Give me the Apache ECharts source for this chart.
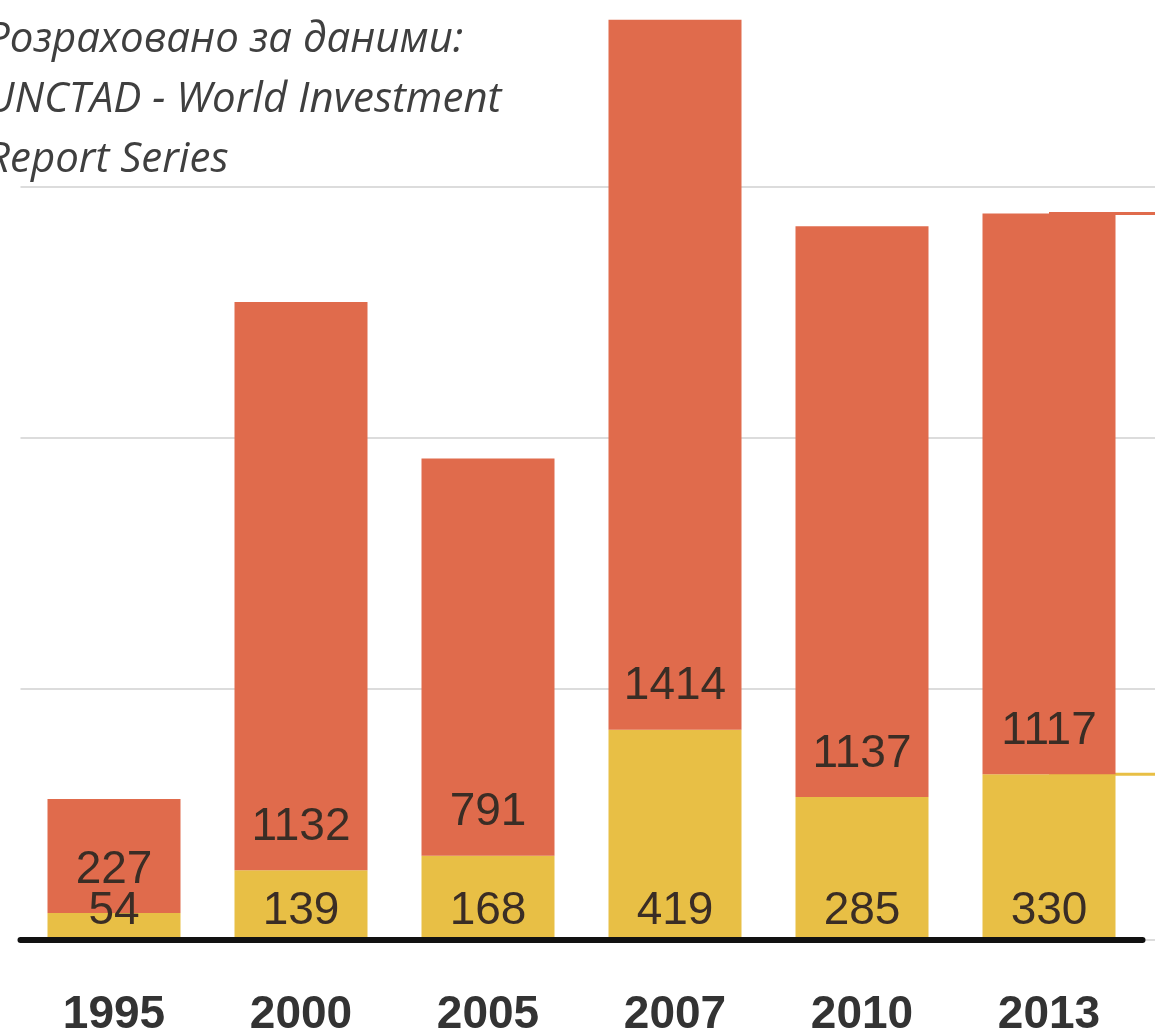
<!DOCTYPE html>
<html>
<head>
<meta charset="utf-8">
<script src="https://cdn.jsdelivr.net/npm/echarts@6/dist/echarts.min.js"></script>
<style>
  html, body { margin: 0; padding: 0; background: #ffffff; }
  #chart { width: 1155px; height: 1036px; }
</style>
</head>
<body>
<div id="chart"></div>
<script>
// ---- data ----
const categories = ['1995', '2000', '2005', '2007', '2010', '2013'];
const yellowValues = [54, 139, 168, 419, 285, 330];
const orangeValues = [227, 1132, 791, 1414, 1137, 1117];
// connector lines leaving the 2013 bar towards an element outside the frame
const connectorCategories = ['1995', '2000', '2005', '2007', '2010', '2013', 'next'];
const connectorTotal = [null, null, null, null, null, 1447, 1447];
const connectorYellow = [null, null, null, null, null, 330, 330];
const sourceLines = ['Розраховано за даними:', 'UNCTAD - World Investment', 'Report Series'];

const ORANGE = '#e06b4c';
const YELLOW = '#e8bf45';
const LABEL = '#3a2d25';

const chart = echarts.init(document.getElementById('chart'), null, { renderer: 'canvas' });

const yCommon = {
  type: 'value', min: 0, max: 2000, interval: 500,
  axisLabel: { show: false }, axisLine: { show: false }, axisTick: { show: false }
};

const option = {
  backgroundColor: '#ffffff',
  animation: false,
  grid: [
    { left: 20.5, right: 12.5, top: -64, bottom: 96, outerBoundsMode: 'none' },
    { left: 20.5, right: -174.5, top: -64, bottom: 96, outerBoundsMode: 'none' }
  ],
  xAxis: [
    {
      type: 'category', gridIndex: 0, data: categories,
      axisLine: { show: true, lineStyle: { color: '#111111', width: 6 } },
      axisTick: { show: false },
      axisLabel: {
        margin: 52, fontSize: 46, fontWeight: 'bold', color: '#333333',
        fontFamily: 'Liberation Sans, Arial, sans-serif'
      },
      z: 10
    },
    {
      type: 'category', gridIndex: 1, data: connectorCategories,
      axisLine: { show: false }, axisTick: { show: false }, axisLabel: { show: false }
    }
  ],
  yAxis: [
    Object.assign({ gridIndex: 0, splitLine: { show: false } }, yCommon),
    Object.assign({ gridIndex: 1, splitLine: { show: true, lineStyle: { color: '#dcdcdc', width: 2 } } }, yCommon)
  ],
  series: [
    {
      type: 'line', xAxisIndex: 1, yAxisIndex: 1, data: connectorTotal,
      symbol: 'none', lineStyle: { color: ORANGE, width: 3 }, z: 1, silent: true
    },
    {
      type: 'line', xAxisIndex: 1, yAxisIndex: 1, data: connectorYellow,
      symbol: 'none', lineStyle: { color: YELLOW, width: 3 }, z: 1, silent: true
    },
    {
      name: 'yellow', type: 'bar', stack: 'total', xAxisIndex: 0, yAxisIndex: 0,
      data: yellowValues, barWidth: 133,
      itemStyle: { color: YELLOW },
      label: {
        show: true, position: 'insideBottom', distance: 6,
        fontSize: 46, color: LABEL, fontFamily: 'Liberation Sans Narrow, Arial Narrow, sans-serif'
      },
      z: 3
    },
    {
      name: 'orange', type: 'bar', stack: 'total', xAxisIndex: 0, yAxisIndex: 0,
      data: orangeValues, barWidth: 133,
      itemStyle: { color: ORANGE },
      label: {
        show: true, position: 'insideBottom', distance: 20,
        fontSize: 46, color: LABEL, fontFamily: 'Liberation Sans Narrow, Arial Narrow, sans-serif'
      },
      z: 3
    }
  ],
  graphic: [
    {
      type: 'text', left: -14, top: 10, z: 20,
      style: {
        text: sourceLines.join('\n'),
        font: 'italic 400 42px "Open Sans", "DejaVu Sans", sans-serif',
        lineHeight: 60,
        fill: '#3f3f3f'
      }
    }
  ]
};

chart.setOption(option);
</script>
</body>
</html>
